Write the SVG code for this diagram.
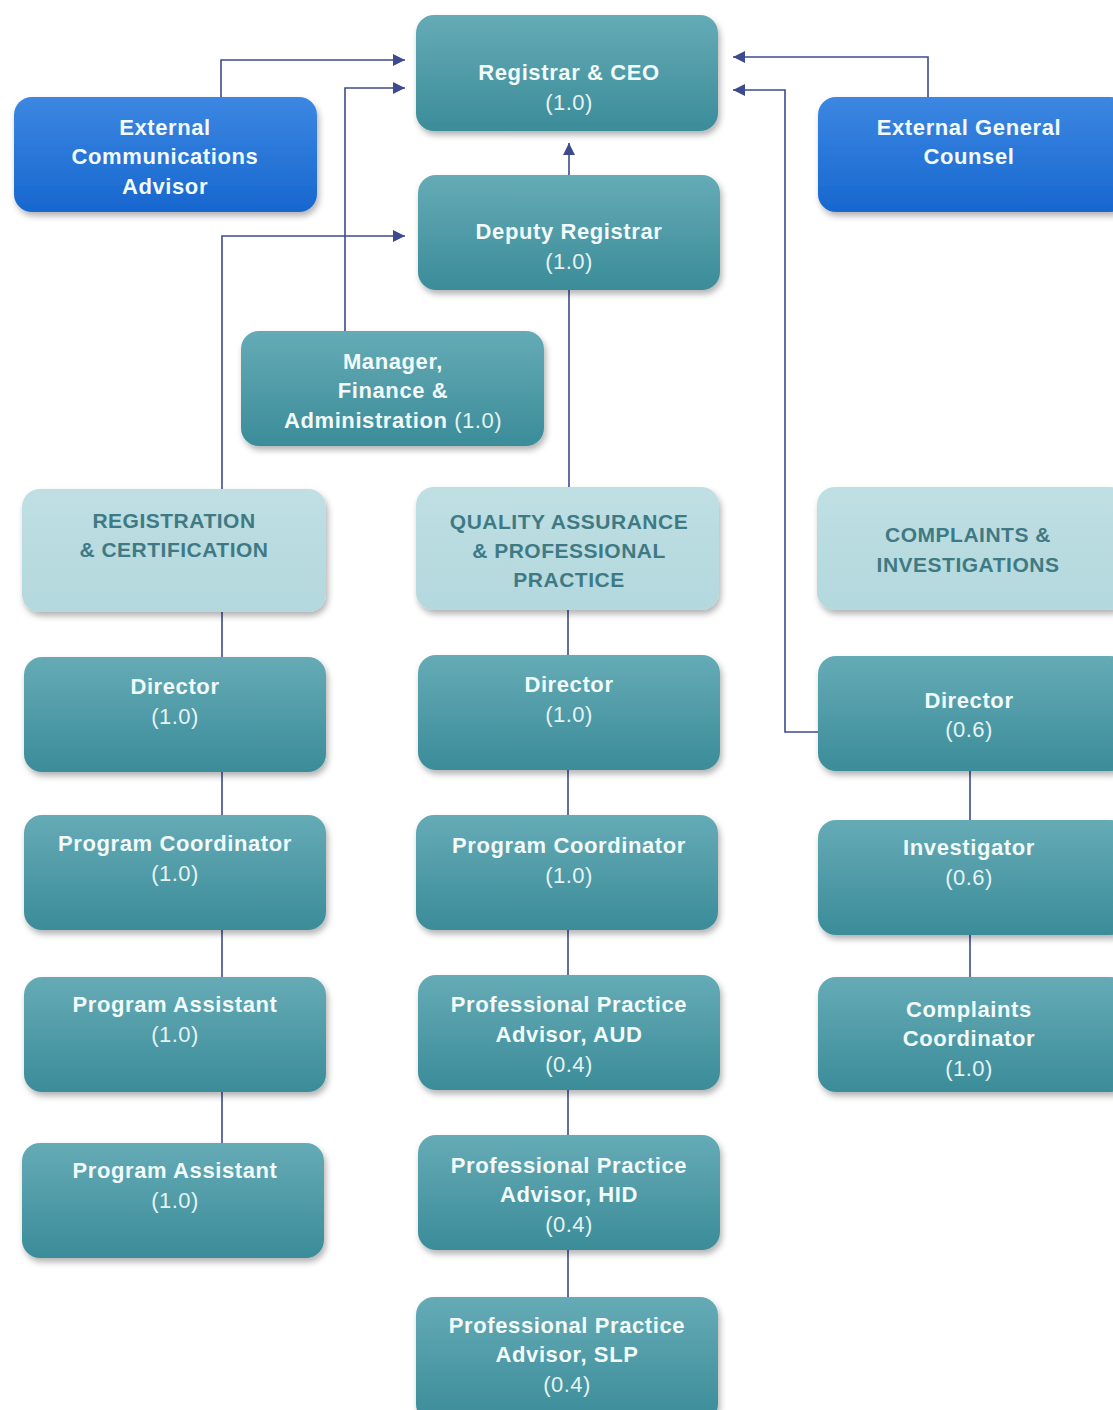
<svg xmlns="http://www.w3.org/2000/svg" width="1113" height="1410" viewBox="0 0 1113 1410">
<defs>
<linearGradient id="gTeal" x1="0" y1="0" x2="0" y2="1">
<stop offset="0" stop-color="#65abb6"/>
<stop offset="1" stop-color="#3b8c99"/>
</linearGradient>
<linearGradient id="gBlue" x1="0" y1="0" x2="0" y2="1">
<stop offset="0" stop-color="#3c87e2"/>
<stop offset="1" stop-color="#1767cf"/>
</linearGradient>
<linearGradient id="gLight" x1="0" y1="0" x2="0" y2="1">
<stop offset="0" stop-color="#bfdfe3"/>
<stop offset="1" stop-color="#b3d8dd"/>
</linearGradient>
<filter id="sh" x="-10%" y="-10%" width="125%" height="130%">
<feDropShadow dx="2" dy="4" stdDeviation="3" flood-color="#000" flood-opacity="0.3"/>
</filter>
<marker id="arr" viewBox="0 0 10 10" refX="10" refY="5" markerWidth="12" markerHeight="12" markerUnits="userSpaceOnUse" orient="auto">
<path d="M0,0 L10,5 L0,10 z" fill="#3d4b8e"/>
</marker>
</defs>
<style>
.teal{fill:url(#gTeal);filter:url(#sh)}
.blue{fill:url(#gBlue);filter:url(#sh)}
.light{fill:url(#gLight);filter:url(#sh)}
text{font-family:"Liberation Sans",Arial,sans-serif;text-anchor:middle;font-size:22px}
.t{fill:#f2fafa;font-weight:bold;letter-spacing:0.6px}
.v{fill:#e6f3f3;font-weight:normal;letter-spacing:0.5px}
.h{fill:#3f7a84;font-weight:bold;font-size:21px;letter-spacing:0.5px}
.c{fill:none;stroke:#3d4b8e;stroke-width:1.6}
</style>
<rect width="1113" height="1410" fill="#ffffff"/>
<g id="connectors">
<path class="c" d="M221,97 V60 H405" marker-end="url(#arr)"/>
<path class="c" d="M345,331 V88 H405" marker-end="url(#arr)"/>
<path class="c" d="M222,489 V236 H405" marker-end="url(#arr)"/>
<path class="c" d="M569,175 V143" marker-end="url(#arr)"/>
<path class="c" d="M569,487 V290"/>
<path class="c" d="M928,97 V57 H733" marker-end="url(#arr)"/>
<path class="c" d="M818,732 H785 V90 H733" marker-end="url(#arr)"/>
<path class="c" d="M222,612 V657 M222,772 V815 M222,930 V977 M222,1092 V1143"/>
<path class="c" d="M568,610 V655 M568,770 V815 M568,930 V975 M568,1090 V1135 M568,1250 V1297"/>
<path class="c" d="M970,770 V820 M970,935 V977"/>
</g>
<g id="registrar-ceo"><rect class="teal" x="416" y="15" width="302" height="116" rx="18"/>
<text class="t" x="569" y="80">Registrar &amp; CEO</text><text class="v" x="569" y="110">(1.0)</text></g>
<g id="ext-comm"><rect class="blue" x="14" y="97" width="303" height="115" rx="18"/>
<text class="t" x="165" y="135">External</text><text class="t" x="165" y="164">Communications</text><text class="t" x="165" y="194">Advisor</text></g>
<g id="ext-counsel"><rect class="blue" x="818" y="97" width="310" height="115" rx="18"/>
<text class="t" x="969" y="135">External General</text><text class="t" x="969" y="164">Counsel</text></g>
<g id="deputy"><rect class="teal" x="418" y="175" width="302" height="115" rx="18"/>
<text class="t" x="569" y="239">Deputy Registrar</text><text class="v" x="569" y="269">(1.0)</text></g>
<g id="manager"><rect class="teal" x="241" y="331" width="303" height="115" rx="18"/>
<text class="t" x="393" y="369">Manager,</text><text class="t" x="393" y="398">Finance &amp;</text><text class="t" x="393" y="428">Administration <tspan class="v">(1.0)</tspan></text></g>
<g id="reg-cert"><rect class="light" x="22" y="489" width="304" height="123" rx="18"/>
<text class="h" x="174" y="528">REGISTRATION</text><text class="h" x="174" y="557">&amp; CERTIFICATION</text></g>
<g id="qa"><rect class="light" x="416" y="487" width="303" height="123" rx="18"/>
<text class="h" x="569" y="529">QUALITY ASSURANCE</text><text class="h" x="569" y="558">&amp; PROFESSIONAL</text><text class="h" x="569" y="587">PRACTICE</text></g>
<g id="complaints"><rect class="light" x="817" y="487" width="310" height="123" rx="18"/>
<text class="h" x="968" y="542">COMPLAINTS &amp;</text><text class="h" x="968" y="572">INVESTIGATIONS</text></g>
<g id="rc-director"><rect class="teal" x="24" y="657" width="302" height="115" rx="18"/>
<text class="t" x="175" y="694">Director</text><text class="v" x="175" y="724">(1.0)</text></g>
<g id="rc-coord"><rect class="teal" x="24" y="815" width="302" height="115" rx="18"/>
<text class="t" x="175" y="851">Program Coordinator</text><text class="v" x="175" y="881">(1.0)</text></g>
<g id="rc-assist1"><rect class="teal" x="24" y="977" width="302" height="115" rx="18"/>
<text class="t" x="175" y="1012">Program Assistant</text><text class="v" x="175" y="1042">(1.0)</text></g>
<g id="rc-assist2"><rect class="teal" x="22" y="1143" width="302" height="115" rx="18"/>
<text class="t" x="175" y="1178">Program Assistant</text><text class="v" x="175" y="1208">(1.0)</text></g>
<g id="qa-director"><rect class="teal" x="418" y="655" width="302" height="115" rx="18"/>
<text class="t" x="569" y="692">Director</text><text class="v" x="569" y="722">(1.0)</text></g>
<g id="qa-coord"><rect class="teal" x="416" y="815" width="302" height="115" rx="18"/>
<text class="t" x="569" y="853">Program Coordinator</text><text class="v" x="569" y="883">(1.0)</text></g>
<g id="ppa-aud"><rect class="teal" x="418" y="975" width="302" height="115" rx="18"/>
<text class="t" x="569" y="1012">Professional Practice</text><text class="t" x="569" y="1042">Advisor, AUD</text><text class="v" x="569" y="1072">(0.4)</text></g>
<g id="ppa-hid"><rect class="teal" x="418" y="1135" width="302" height="115" rx="18"/>
<text class="t" x="569" y="1173">Professional Practice</text><text class="t" x="569" y="1202">Advisor, HID</text><text class="v" x="569" y="1232">(0.4)</text></g>
<g id="ppa-slp"><rect class="teal" x="416" y="1297" width="302" height="125" rx="18"/>
<text class="t" x="567" y="1333">Professional Practice</text><text class="t" x="567" y="1362">Advisor, SLP</text><text class="v" x="567" y="1392">(0.4)</text></g>
<g id="ci-director"><rect class="teal" x="818" y="656" width="310" height="115" rx="18"/>
<text class="t" x="969" y="708">Director</text><text class="v" x="969" y="737">(0.6)</text></g>
<g id="investigator"><rect class="teal" x="818" y="820" width="310" height="115" rx="18"/>
<text class="t" x="969" y="855">Investigator</text><text class="v" x="969" y="885">(0.6)</text></g>
<g id="ci-coord"><rect class="teal" x="818" y="977" width="310" height="115" rx="18"/>
<text class="t" x="969" y="1017">Complaints</text><text class="t" x="969" y="1046">Coordinator</text><text class="v" x="969" y="1076">(1.0)</text></g>
</svg>
